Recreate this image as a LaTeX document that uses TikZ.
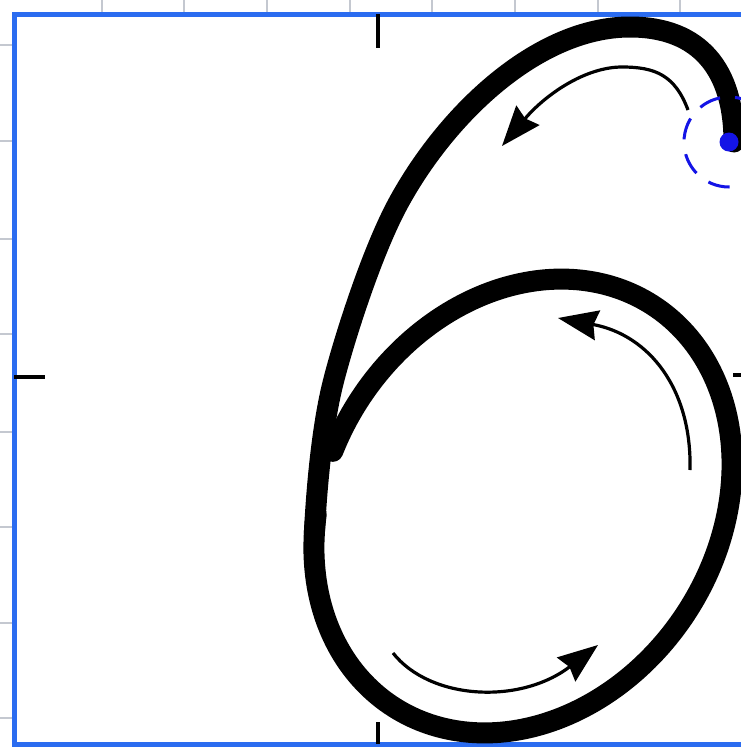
\documentclass[tikz,border=0pt]{standalone}
\usetikzlibrary{arrows.meta}
\definecolor{frameblue}{HTML}{2B6CF0}
\definecolor{dotblue}{HTML}{1414E6}
\definecolor{gridgrey}{HTML}{C4C8D0}
\tikzset{
  penstroke/.style={line width=21pt, line cap=round, line join=round, black},
  guide/.style={line width=3.2pt, black, -{Stealth[length=40pt,width=30pt,inset=4pt]}},
  gridtick/.style={gridgrey, line width=1.6pt},
  midtick/.style={black, line width=4pt}
}
\begin{document}
\begin{tikzpicture}[x=1pt,y=-1pt]
\useasboundingbox (0,0) rectangle (741,748);
\clip (0,0) rectangle (741,748);
\fill[white] (0,0) rectangle (741,748);
% outer grey ruler ticks
\foreach \gx in {102,184,267,350,432,515,598,680} \draw[gridtick] (\gx,0) -- (\gx,12);
\foreach \gy in {45,141,239,334,432,527,623,718} \draw[gridtick] (0,\gy) -- (12,\gy);
% frame
\draw[frameblue, line width=5pt] (14,14) rectangle (744,744);
\draw[midtick] (378,14) -- (378,48);
\draw[midtick] (14,377) -- (45,377);
\draw[midtick] (378,744) -- (378,722);
\draw[midtick] (744,375) -- (733,375);
% the figure six: loop
\draw[penstroke] plot[domain=-104:240, samples=240, variable=\t]
  ({523+130.2*cos(\t)+163.6*sin(\t)}, {506-200.5*cos(\t)+106.3*sin(\t)});
% the figure six: upper stroke
\coordinate (s0) at (734,142);
\coordinate (s1) at (630,27);
\coordinate (s2) at (400,200);
\coordinate (s3) at (333,383);
\coordinate (s4) at (314.3,534);
\draw[penstroke] (s0) .. controls (734,70) and (700,27) .. (s1)
  .. controls (540,27) and (450,110) .. (s2)
  .. controls (372,250) and (343,343) .. (s3)
  .. controls (323,423) and (317,480) .. (s4);
% start marker
\coordinate (start) at (729,142);
\draw[dotblue, line width=3pt, dash pattern=on 22pt off 15pt, dash phase=4pt] (start) circle[radius=45];
\fill[dotblue] (start) circle[radius=9.5];
% direction arrows
\coordinate (a1s) at (688,110);
\coordinate (a1m) at (622,67);
\coordinate (a1e) at (502,146);
\draw[guide] (a1s) .. controls (675,75) and (655,67) .. (a1m) .. controls (585,67) and (545,95) .. (a1e);
\coordinate (a2s) at (690,470);
\coordinate (a2e) at (558,318);
\draw[guide] (a2s) .. controls (692,390) and (650,335) .. (a2e);
\coordinate (a3s) at (393,653);
\coordinate (a3e) at (598,645);
\draw[guide] (a3s) .. controls (430,700) and (520,705) .. (a3e);
\end{tikzpicture}
\end{document}
